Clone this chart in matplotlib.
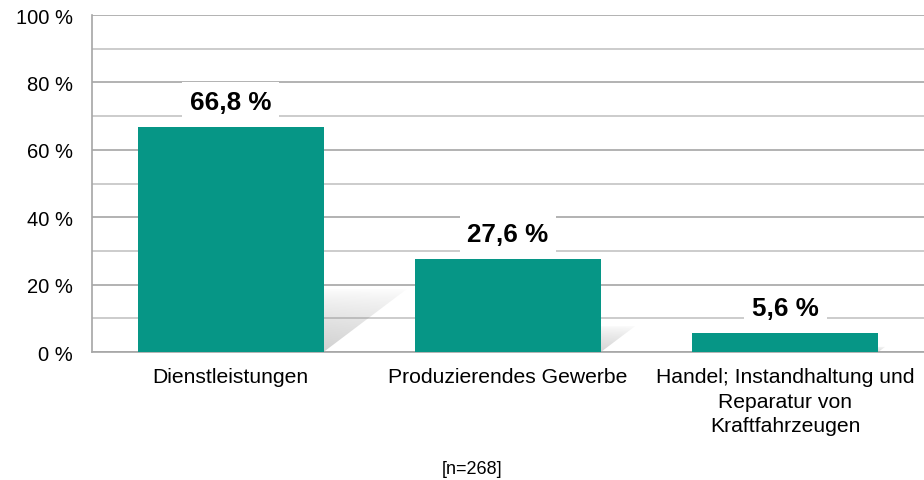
import numpy as np
import matplotlib
matplotlib.use("Agg")
import matplotlib.pyplot as plt
from matplotlib.patches import Polygon

plt.rcParams["font.family"] = ["Liberation Sans", "DejaVu Sans"]

categories = ["Dienstleistungen", "Produzierendes Gewerbe",
              "Handel; Instandhaltung und\nReparatur von\nKraftfahrzeugen"]
shares = [66.8, 27.6, 5.6]
value_labels = ["66,8 %", "27,6 %", "5,6 %"]
y_ticks = [0, 20, 40, 60, 80, 100]
y_tick_labels = ["0 %", "20 %", "40 %", "60 %", "80 %", "100 %"]
sample_note = "[n=268]"

BAR_COLOR = "#069686"
BAR_WIDTH = 0.67

fig = plt.figure(figsize=(9.24, 4.81), dpi=100)
ax = fig.add_axes([0.0996, 0.2661, 0.9004, 0.7006])

x = np.arange(len(categories))
bars = ax.bar(x, shares, width=BAR_WIDTH, color=BAR_COLOR, zorder=3)

# soft perspective shadow behind each bar
for bar in bars:
    h = bar.get_height()
    xl, xr = bar.get_x(), bar.get_x() + bar.get_width()
    hs = 0.28 * h
    skew = 0.0045 * h
    poly = Polygon([(xl, 0), (xr, 0), (xr + skew, hs), (xl + skew, hs)],
                   closed=True, facecolor="none", edgecolor="none",
                   transform=ax.transData)
    ax.add_patch(poly)
    ny, nx = 60, 60
    yy, xx = np.mgrid[0:1:ny * 1j, 0:1:nx * 1j]
    alpha = 0.5 * (1 - yy) ** 0.7 * (1 - 0.4 * xx)
    rgba = np.zeros((ny, nx, 4))
    rgba[..., :3] = 0.5
    rgba[..., 3] = alpha
    im = ax.imshow(rgba, extent=(xl, xr + skew, 0, hs), origin="lower",
                   aspect="auto", zorder=2, interpolation="bilinear")
    im.set_clip_path(poly)

for bar, lab in zip(bars, value_labels):
    ax.annotate(lab, (bar.get_x() + bar.get_width() / 2, bar.get_height()),
                xytext=(0, 18), textcoords="offset points",
                ha="center", va="center", fontsize=18.7, fontweight="bold",
                bbox=dict(boxstyle="square,pad=0.3", fc="white", ec="none"),
                zorder=4)

ax.set_xlim(-0.5, len(categories) - 0.5)
ax.set_ylim(0, 100)
ax.set_yticks(y_ticks)
ax.set_yticklabels(y_tick_labels)
ax.set_yticks(np.arange(10, 100, 20), minor=True)
ax.set_xticks(x)
ax.set_xticklabels(categories, linespacing=1.35)

ax.tick_params(axis="y", which="both", length=0, pad=14, labelsize=14.5)
ax.tick_params(axis="x", length=0, pad=11, labelsize=15.2)

ax.grid(axis="y", which="major", color="#a6a6a6", linewidth=1.2, zorder=1)
ax.grid(axis="y", which="minor", color="#c4c4c4", linewidth=1.2, zorder=1)
ax.set_axisbelow(True)

for side in ["top", "right"]:
    ax.spines[side].set_visible(False)
ax.spines["left"].set_color("#a6a6a6")
ax.spines["bottom"].set_color("#a6a6a6")
ax.spines["left"].set_linewidth(1.2)
ax.spines["bottom"].set_linewidth(1.2)

fig.text(472 / 924, 1 - 470 / 481, sample_note, ha="center", va="center",
         fontsize=13)

fig.savefig("out.png", dpi=100)
